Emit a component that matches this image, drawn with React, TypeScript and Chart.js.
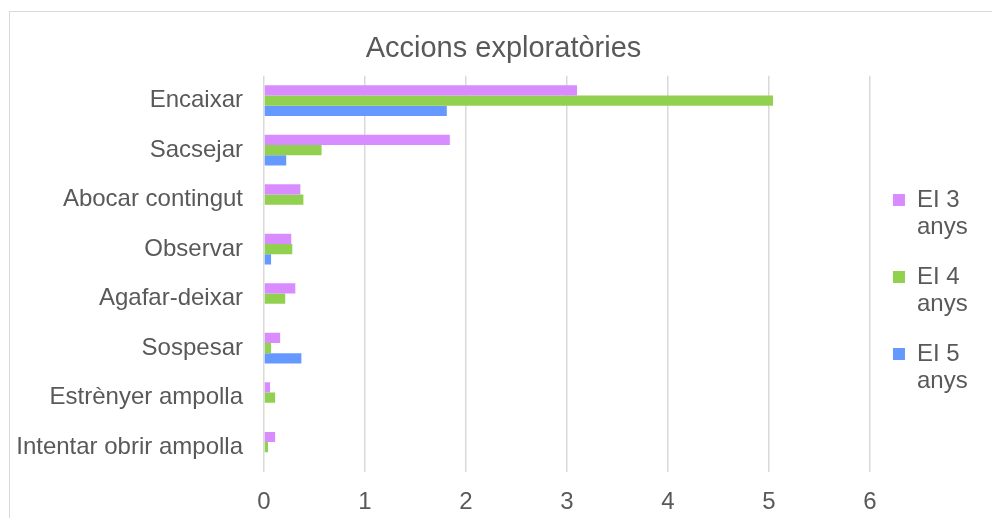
import React, { useEffect, useRef } from "react";
import { Chart, registerables } from "chart.js";

Chart.register(...registerables);

const chartTitle = "Accions exploratòries";
const categories = [
  "Encaixar",
  "Sacsejar",
  "Abocar contingut",
  "Observar",
  "Agafar-deixar",
  "Sospesar",
  "Estrènyer ampolla",
  "Intentar obrir ampolla",
];
const seriesNames = ["EI 3 anys", "EI 4 anys", "EI 5 anys"];
const ei3 = [3.1, 1.84, 0.36, 0.27, 0.31, 0.16, 0.06, 0.11];
const ei4 = [5.04, 0.57, 0.39, 0.28, 0.21, 0.07, 0.11, 0.04];
const ei5 = [1.81, 0.22, 0, 0.07, 0, 0.37, 0, 0];
const xTicks = [0, 1, 2, 3, 4, 5, 6];

const seriesColors = ["#D98CFF", "#92D050", "#6699FF"];
const FONT = "'Liberation Sans', Arial, sans-serif";
const TEXT = "#595959";
const GRID = "#D9D9D9";

// legend entries wrap onto two lines, as in the original; the trailing
// spaces only widen the measured legend column (they draw nothing)
function splitLegend(t: string): string[] {
  const i = t.lastIndexOf(" ");
  return i > 0 ? [t.slice(0, i), t.slice(i + 1) + "  "] : [t];
}

export default function App() {
  const ref = useRef<HTMLCanvasElement | null>(null);

  useEffect(() => {
    if (!ref.current) return;
    const values = [ei3, ei4, ei5];
    const chart = new Chart(ref.current, {
      type: "bar",
      data: {
        labels: categories,
        datasets: seriesNames.map((name, i) => ({
          label: name,
          data: values[i],
          backgroundColor: seriesColors[i],
          borderWidth: 0,
          categoryPercentage: 0.62,
          barPercentage: 1,
        })),
      },
      options: {
        indexAxis: "y",
        animation: false,
        responsive: false,
        maintainAspectRatio: false,
        layout: { padding: { left: 7, right: 10, top: 0, bottom: 1 } },
        scales: {
          x: {
            min: xTicks[0],
            max: xTicks[xTicks.length - 1],
            ticks: {
              stepSize: xTicks[1] - xTicks[0],
              color: TEXT,
              font: { family: FONT, size: 24 },
              padding: 16,
            },
            grid: { color: GRID, lineWidth: 1.5, drawTicks: false },
            border: { display: false },
            afterFit: (s: any) => {
              s.height = 45;
            },
          },
          y: {
            ticks: {
              color: TEXT,
              font: { family: FONT, size: 24 },
              padding: 21,
            },
            grid: { display: false, drawTicks: false },
            border: { display: false },
            afterFit: (s: any) => {
              s.width = 248;
            },
          },
        },
        plugins: {
          title: {
            display: true,
            text: chartTitle,
            color: TEXT,
            font: { family: FONT, size: 29, weight: "normal", lineHeight: 1.2 },
            padding: { top: 21, bottom: 9 },
          },
          legend: {
            position: "right",
            fullSize: false,
            title: {
              display: true,
              text: "",
              font: { size: 10, lineHeight: 1 },
              padding: { top: 26, bottom: 0 },
            },
            labels: {
              boxWidth: 12,
              boxHeight: 12,
              padding: 23,
              color: TEXT,
              font: { family: FONT, size: 24, lineHeight: 1.125 },
              generateLabels: (c: any) =>
                Chart.defaults.plugins.legend.labels
                  .generateLabels(c)
                  .map((it: any) => ({ ...it, text: splitLegend(String(it.text)), lineWidth: 0 })),
            },
          },
          tooltip: { enabled: false },
        },
      } as any,
    });
    return () => chart.destroy();
  }, []);

  return (
    <div
      style={{
        position: "fixed",
        left: 0,
        top: 0,
        width: 992,
        height: 518,
        overflow: "hidden",
        background: "#ffffff",
      }}
    >
      <div
        style={{
          position: "absolute",
          left: 9,
          top: 11,
          width: 1000,
          height: 600,
          border: "1px solid #D9D9D9",
          boxSizing: "border-box",
        }}
      />
      <canvas
        ref={ref}
        width={992}
        height={507}
        style={{ position: "absolute", left: 9, top: 11, width: 992, height: 507 }}
      />
    </div>
  );
}
